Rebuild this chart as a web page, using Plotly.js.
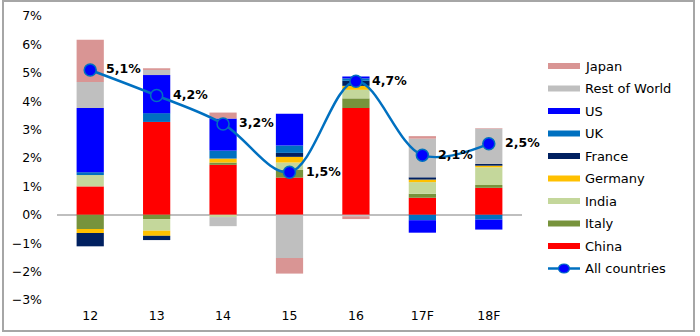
<!DOCTYPE html>
<html>
<head>
<meta charset="utf-8">
<script src="https://cdn.plot.ly/plotly-3.0.1.min.js"></script>
<style>
html,body{margin:0;padding:0;background:#fff;}
#chart{width:700px;height:336px;}
</style>
</head>
<body>
<div id="chart"></div>
<script>
// Categories (years)
const categories = ["12", "13", "14", "15", "16", "17F", "18F"];

// Contributions to growth (percentage points), series in stacking order
const china   = [1.00, 3.27, 1.76, 1.31, 3.76, 0.60, 0.95];
const italy   = [-0.50, -0.15, 0.08, 0.27, 0.34, 0.14, 0.10];
const india   = [0.40, -0.41, -0.08, 0.26, 0.30, 0.41, 0.62];
const germany = [-0.14, -0.18, 0.14, 0.20, 0.14, 0.09, 0.06];
const france  = [-0.47, -0.15, 0.00, 0.14, 0.18, 0.08, 0.06];
const uk      = [0.10, 0.31, 0.28, 0.26, 0.08, -0.19, -0.17];
const us      = [2.26, 1.34, 1.13, 1.12, 0.07, -0.44, -0.35];
const restOfWorld = [0.92, 0.18, -0.32, -1.52, -0.05, 1.36, 1.24];
const japan   = [1.48, 0.06, 0.21, -0.55, -0.10, 0.09, 0.02];

// Total growth, all countries
const allCountries = [5.1, 4.2, 3.2, 1.5, 4.7, 2.1, 2.5];

const seriesNames = ["China", "Italy", "India", "Germany", "France", "UK", "US", "Rest of World", "Japan"];
const seriesValues = [china, italy, india, germany, france, uk, us, restOfWorld, japan];
const seriesColors = ["#FF0000", "#77933C", "#C4D79B", "#FFC000", "#002060", "#0070C0", "#0000FF", "#BFBFBF", "#D99594"];

const lineColor = "#0070C0";
const markerColor = "#0000FF";

const FONT = "DejaVu Sans, Verdana, sans-serif";

const traces = seriesNames.map((name, i) => ({
  type: "bar",
  name: name,
  x: categories,
  y: seriesValues[i],
  marker: {color: seriesColors[i], line: {width: 0}},
  showlegend: false,
  hoverinfo: "name+y"
}));

traces.push({
  type: "scatter",
  name: "All countries",
  x: categories,
  y: allCountries,
  mode: "lines+markers",
  line: {color: lineColor, width: 2.5, shape: "spline", smoothing: 1},
  marker: {color: markerColor, size: 12, line: {color: lineColor, width: 1.5}},
  showlegend: false,
  cliponaxis: false
});

// Geometry of plot area (pixels)
const W = 700, H = 336;
const M = {l: 57, r: 178, t: 16, b: 36};
const pw = W - M.l - M.r, ph = H - M.t - M.b;
const px = x => (x - M.l) / pw;
const py = y => (H - M.b - y) / ph;

const shapes = [];
const annotations = [];

// Data labels for the total line (x given as category index)
allCountries.forEach((v, i) => {
  annotations.push({xref: "x", yref: "y", x: i, y: v,
    xanchor: "left", yanchor: "middle", xshift: 14, yshift: 1, showarrow: false,
    text: v.toFixed(1).replace(".", ",") + "%",
    font: {family: FONT, size: 12.5, color: "#000", weight: "bold"}});
});

// Outer frame
shapes.push({type: "rect", xref: "paper", yref: "paper",
  x0: px(3), x1: px(694), y0: py(331), y1: py(1),
  line: {color: "#A6A6A6", width: 2}, fillcolor: "rgba(0,0,0,0)", layer: "below"});

// Custom legend (Excel style: wide swatches), reverse order
const legendOrder = seriesNames.map((n, i) => i).reverse();
const legX0 = 548, legX1 = 580, legText = 583, legY0 = 66, legStep = 22.5;
legendOrder.forEach((idx, k) => {
  const yc = legY0 + k * legStep;
  shapes.push({type: "rect", xref: "paper", yref: "paper",
    x0: px(legX0), x1: px(legX1), y0: py(yc + 3), y1: py(yc - 3),
    fillcolor: seriesColors[idx], line: {width: 0}});
  annotations.push({xref: "paper", yref: "paper", x: px(legText), y: py(yc),
    xanchor: "left", yanchor: "middle", showarrow: false, text: seriesNames[idx],
    font: {family: FONT, size: 13, color: "#000"}});
});
{
  const yc = legY0 + legendOrder.length * legStep;
  shapes.push({type: "line", xref: "paper", yref: "paper",
    x0: px(legX0), x1: px(legX1), y0: py(yc), y1: py(yc),
    line: {color: lineColor, width: 2.5}});
  shapes.push({type: "circle", xref: "paper", yref: "paper",
    x0: px(564 - 5.5), x1: px(564 + 5.5), y0: py(yc + 4.5), y1: py(yc - 4.5),
    fillcolor: markerColor, line: {color: lineColor, width: 1.2}});
  annotations.push({xref: "paper", yref: "paper", x: px(legText), y: py(yc),
    xanchor: "left", yanchor: "middle", showarrow: false, text: "All countries",
    font: {family: FONT, size: 13, color: "#000"}});
}

const layout = {
  width: W, height: H,
  margin: M,
  paper_bgcolor: "#fff", plot_bgcolor: "#fff",
  barmode: "relative",
  bargap: 0.59,
  showlegend: false,
  font: {family: FONT, size: 12, color: "#000"},
  xaxis: {
    type: "category",
    showgrid: false, zeroline: false, showline: false, ticks: "",
    tickfont: {family: FONT, size: 12.5, color: "#000"},
    ticklabelstandoff: 6,
    range: [-0.5, 6.5]
  },
  yaxis: {
    range: [-3, 7], dtick: 1, tick0: 0,
    ticksuffix: "%",
    showgrid: false, showline: false, ticks: "",
    zeroline: true, zerolinecolor: "#BFBFBF", zerolinewidth: 1.5,
    tickfont: {family: FONT, size: 12.5, color: "#000"},
    ticklabelstandoff: 14
  },
  shapes: shapes,
  annotations: annotations
};

Plotly.newPlot("chart", traces, layout, {displayModeBar: false, staticPlot: true});
</script>
</body>
</html>
